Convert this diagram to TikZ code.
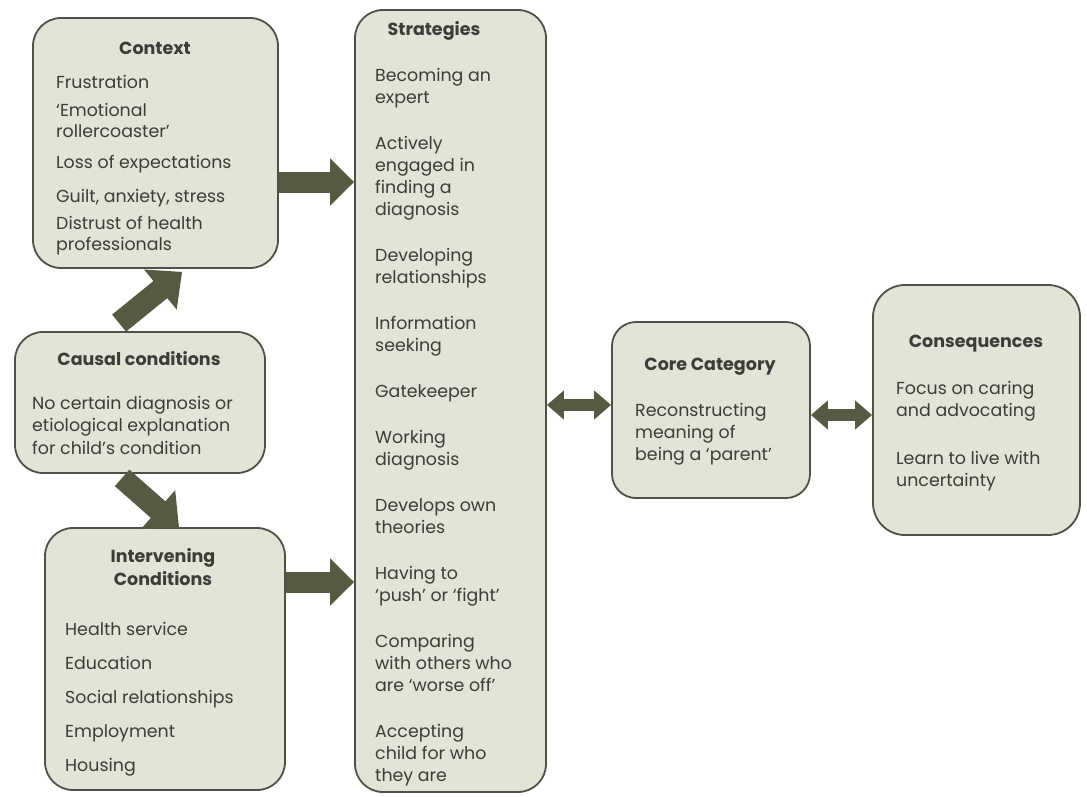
\documentclass[tikz,border=0pt]{standalone}
\usepackage{fontspec}
\setmainfont{Poppins}
\usetikzlibrary{arrows.meta,calc}
\definecolor{boxfill}{HTML}{E1E4D6}
\definecolor{boxline}{HTML}{505048}
\definecolor{arrowcol}{HTML}{585942}
\definecolor{txt}{HTML}{3C3C38}
\begin{document}
\begin{tikzpicture}[x=1pt,y=-1pt,
  box/.style={draw=boxline, line width=1.8pt, fill=boxfill, rounded corners=28pt, inner sep=0pt},
  heading/.style={font=\fontsize{17.5}{23}\selectfont\bfseries, text=txt, inner sep=0pt, align=center},
  body/.style={font=\fontsize{17.4}{22}\selectfont, text=txt, inner sep=0pt, align=left, anchor=north west},
  bigarrow/.style={draw=arrowcol, line width=21pt, -{Triangle[length=24pt,width=46pt]}},
  diagarrow/.style={draw=arrowcol, line width=22pt, -{Triangle[length=28pt,width=50pt]}},
  twoway/.style={draw=arrowcol, line width=12pt, {Triangle[length=17pt,width=28pt]}-{Triangle[length=17pt,width=28pt]}}
]
\useasboundingbox (0,0) rectangle (1087,796);

% boxes
\node[box, minimum width=245pt, minimum height=250pt] (context) at (155.5,143) {};
\node[box, minimum width=250pt, minimum height=141pt] (causal) at (140,402.5) {};
\node[box, minimum width=240pt, minimum height=262pt] (intervening) at (165,659) {};
\node[box, minimum width=191pt, minimum height=782pt] (strategies) at (450.5,401) {};
\node[box, minimum width=198pt, minimum height=176pt, rounded corners=24pt] (core) at (711,410) {};
\node[box, minimum width=207pt, minimum height=250pt, rounded corners=32pt] (consequences) at (976.5,410) {};

% headings
\node[heading] (contextT) at (155,48) {Context};
\node[heading] (causalT) at (139,359) {Causal conditions};
\node[heading] (interveningT) at (163,567) {Intervening\\Conditions};
\node[heading] (strategiesT) at (434,31) {Strategies};
\node[heading] (coreT) at (710,367) {Core Category};
\node[heading] (consequencesT) at (976,344) {Consequences};

% body texts
\node[body] (contextB) at (56,75) {Frustration\\[6pt]
  ‘Emotional\\[-1pt] rollercoaster’\\[9pt]
  Loss of expectations\\[12pt]
  Guilt, anxiety, stress\\[5pt]
  Distrust of health\\[-1pt] professionals};
\node[body] (causalB) at (32,396) {No certain diagnosis or\\[0.5pt]
  etiological explanation\\[0.5pt] for child’s condition};
\node[body] (interveningB) at (65,622) {Health service\\[12pt] Education\\[12pt]
  Social relationships\\[12pt] Employment\\[12pt] Housing};
\node[body] (strategiesB) at (375,68) {Becoming an\\ expert\\[24pt]
  Actively\\ engaged in\\ finding a\\ diagnosis\\[24pt]
  Developing\\ relationships\\[24pt]
  Information\\ seeking\\[24pt]
  Gatekeeper\\[24pt]
  Working\\ diagnosis\\[24pt]
  Develops own\\ theories\\[24pt]
  Having to\\ ‘push’ or ‘fight’\\[24pt]
  Comparing\\ with others who\\ are ‘worse off’\\[24pt]
  Accepting\\ child for who\\ they are};
\node[body] (coreB) at (635,403) {Reconstructing\\ meaning of\\ being a ‘parent’};
\node[body] (consequencesB) at (896,381) {Focus on caring\\ and advocating\\[26pt]
  Learn to live with\\ uncertainty};

% connectors
\coordinate (c1) at ($(context.east)+(0,39)$);
\draw[bigarrow] (c1) -- (strategies.west |- c1);
\coordinate (c2) at ($(intervening.east)+(0,-77)$);
\draw[bigarrow] (c2) -- (strategies.west |- c2);
\coordinate (c3) at ($(causal.north west)+(105,-8)$);
\draw[diagarrow] (c3) -- ($(context.south west)+(150,3)$);
\coordinate (c4) at ($(causal.south west)+(108,4)$);
\draw[diagarrow] (c4) -- ($(intervening.north west)+(135,1)$);
\coordinate (c5) at ($(core.west)+(0,-5)$);
\draw[twoway] (strategies.east |- c5) -- (c5);
\coordinate (c6) at ($(core.east)+(0,5)$);
\draw[twoway] (c6) -- (consequences.west |- c6);
\end{tikzpicture}
\end{document}
